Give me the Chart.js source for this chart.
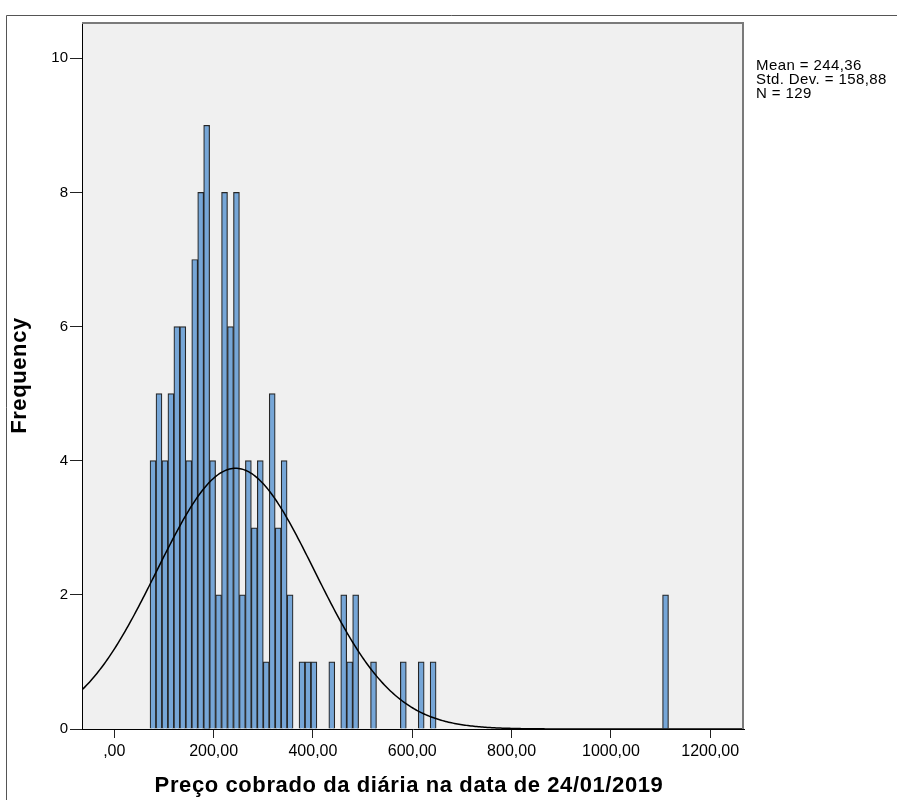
<!DOCTYPE html>
<html><head><meta charset="utf-8">
<script src="https://cdn.jsdelivr.net/npm/chart.js@4"></script>
<style>html,body{margin:0;padding:0;background:#fff}#wrap{width:897px;height:800px;position:relative}</style>
</head><body><div id="wrap"><canvas id="c" width="897" height="800"></canvas></div>
<script>
// ---- data ----
const binStart = 72;
const binWidth = 12;
const binCounts = [
  4,5,4,5,6,6,4,7,8,9,4,2,8,6,8,
  2,4,3,4,1,5,3,4,2,0,1,
  1,1,0,0,1,0,2,1,2,0,0,1,
  0,0,0,0,1,0,0,1,0,1,
  0,0,0,0,0,0,0,0,0,0,
  0,0,0,0,0,0,0,0,0,0,
  0,0,0,0,0,0,0,0,0,0,
  0,0,0,0,0,0,0,0,
  2
];
const meanVal = 244.36;
const sdVal = 158.88;
const nVal = 129;
const xTickValues = [0,200,400,600,800,1000,1200];
const xTickLabels = [",00","200,00","400,00","600,00","800,00","1000,00","1200,00"];
const yTickValues = [0,2,4,6,8,10];
const statLines = ["Mean = 244,36","Std. Dev. = 158,88","N = 129"];
const xTitle = "Preço cobrado da diária na data de 24/01/2019";
const yTitle = "Frequency";
const xMin = -65, xMax = 1268, yMax = 10.54;

// ---- derived ----
const barData = binCounts.map((c,k)=>({x: binStart + binWidth*(k+0.5), y: c===0 ? null : c}));
const peak = nVal*binWidth/(sdVal*Math.sqrt(2*Math.PI));
const curveData = [];
for (let x = xMin; x <= xMax; x += 3) {
  const z = (x-meanVal)/sdVal;
  curveData.push({x: x, y: peak*Math.exp(-0.5*z*z)});
}

const FONT = "'Liberation Sans', Arial, sans-serif";

const decor = {
  id: 'decor',
  beforeDraw(chart) {
    const {ctx, chartArea: a} = chart;
    ctx.save();
    ctx.fillStyle = '#fff';
    ctx.fillRect(0,0,chart.width,chart.height);
    ctx.strokeStyle = '#555';
    ctx.lineWidth = 1;
    ctx.beginPath();
    ctx.moveTo(6.5, 800); ctx.lineTo(6.5, 15.5); ctx.lineTo(897, 15.5);
    ctx.stroke();
    ctx.fillStyle = '#f0f0f0';
    ctx.fillRect(a.left, a.top, a.right-a.left, a.bottom-a.top);
    ctx.restore();
  },
  afterDraw(chart) {
    const {ctx, chartArea: a} = chart;
    ctx.save();
    ctx.strokeStyle = '#7a7a7a';
    ctx.lineWidth = 2;
    ctx.beginPath();
    ctx.moveTo(a.left, a.top+1); ctx.lineTo(a.right-1, a.top+1); ctx.lineTo(a.right-1, a.bottom);
    ctx.stroke();
    ctx.fillStyle = '#000';
    ctx.font = "15px " + FONT;
    ctx.textAlign = 'left';
    ctx.textBaseline = 'alphabetic';
    ctx.letterSpacing = '0.4px';
    statLines.forEach((s,i)=>ctx.fillText(s, 756, 70 + i*14.2));
    ctx.font = "bold 22px " + FONT;
    ctx.letterSpacing = '0.6px';
    ctx.textAlign = 'center';
    ctx.fillText(xTitle, (a.left+a.right)/2 - 4, 792);
    ctx.translate(26, (a.top+a.bottom)/2);
    ctx.rotate(-Math.PI/2);
    ctx.fillText(yTitle, 0, 0);
    ctx.restore();
  }
};

new Chart(document.getElementById('c'), {
  type: 'bar',
  data: {
    datasets: [
      {type:'line', data: curveData, borderColor:'#000', borderWidth:1.5, pointRadius:0, fill:false, tension:0, order:0},
      {type:'bar', data: barData, backgroundColor:'#76a6d7', borderColor:'#262626', borderWidth:1.2,
       borderSkipped:'start', barPercentage:1, categoryPercentage:1, grouped:false, order:1}
    ]
  },
  options: {
    responsive:false, animation:false,
    layout:{padding:{left:0, top:22, right:153, bottom:0}},
    plugins:{legend:{display:false}, tooltip:{enabled:false}},
    scales:{
      x:{type:'linear', min:xMin, max:xMax, offset:false,
         grid:{display:true, drawOnChartArea:false, drawTicks:true, tickLength:9, tickColor:'#222', offset:false},
         border:{display:true, color:'#000', width:1},
         ticks:{font:{family:FONT, size:16}, color:'#000', padding:4, maxRotation:0, autoSkip:false,
                callback:(v)=>{const i=xTickValues.indexOf(v); return i>=0?xTickLabels[i]:'';}},
         afterBuildTicks:(s)=>{s.ticks = xTickValues.map(v=>({value:v}));},
         afterFit:(s)=>{s.height = 71;}},
      y:{type:'linear', min:0, max:yMax,
         grid:{display:true, drawOnChartArea:false, drawTicks:true, tickLength:12, tickColor:'#222'},
         border:{display:true, color:'#000', width:1},
         ticks:{font:{family:FONT, size:15}, color:'#000', padding:2, callback:(v)=>String(v)},
         afterBuildTicks:(s)=>{s.ticks = yTickValues.map(v=>({value:v}));},
         afterFit:(s)=>{s.width = 82;}}
    }
  },
  plugins:[decor]
});
</script></body></html>
